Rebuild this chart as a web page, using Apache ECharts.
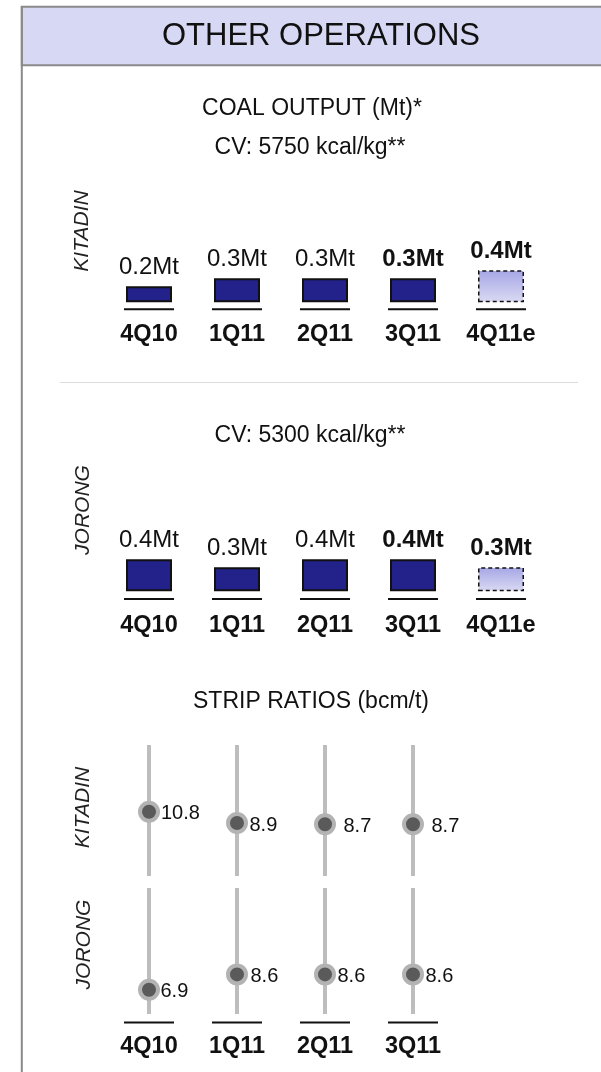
<!DOCTYPE html>
<html>
<head>
<meta charset="utf-8">
<title>Other operations</title>
<script src="https://cdn.jsdelivr.net/npm/echarts@6/dist/echarts.min.js"></script>
<style>
  html, body { margin: 0; padding: 0; background: #ffffff; }
  #chart { width: 601px; height: 1072px; }
</style>
</head>
<body>
<div id="chart"></div>
<script>
// Quarterly coal output (Mt) per mine
const quarters = ['4Q10', '1Q11', '2Q11', '3Q11', '4Q11e'];
const kitadinOutput = [0.2, 0.3, 0.3, 0.3, 0.4];
const jorongOutput = [0.4, 0.3, 0.4, 0.4, 0.3];

// Strip ratios (bcm/t), actual quarters only
const stripQuarters = ['4Q10', '1Q11', '2Q11', '3Q11'];
const kitadinStrip = [10.8, 8.9, 8.7, 8.7];
const jorongStrip = [6.9, 8.6, 8.6, 8.6];

// Text
const headerText = 'OTHER OPERATIONS';
const outputTitle = 'COAL OUTPUT (Mt)*';
const kitadinCv = 'CV: 5750 kcal/kg**';
const jorongCv = 'CV: 5300 kcal/kg**';
const stripTitle = 'STRIP RATIOS (bcm/t)';
const mineNames = ['KITADIN', 'JORONG'];

const FONT = '"Liberation Sans", Arial, Helvetica, sans-serif';
const INK = '#111111';
const NAVY = '#22228a';
const STEM = '#bdbdbd';
const BOLD_FROM = 3;            // latest actual quarter and the estimate are emphasised

function isEstimate(q) { return /e$/.test(q); }

function outputBars(values, gi) {
  return {
    type: 'bar',
    xAxisIndex: gi, yAxisIndex: gi,
    barWidth: 46,
    z: 3,
    data: values.map((v, i) => {
      const est = isEstimate(quarters[i]);
      return {
        value: v,
        itemStyle: est ? {
          color: new echarts.graphic.LinearGradient(0, 0, 0, 1, [
            { offset: 0, color: '#a6a6e6' },
            { offset: 1, color: '#dadaf3' }
          ]),
          borderColor: '#111111', borderWidth: 1.5, borderType: [4, 3]
        } : { color: NAVY, borderColor: '#111111', borderWidth: 2 },
        label: { fontWeight: i >= BOLD_FROM ? 'bold' : 'normal' }
      };
    }),
    label: {
      show: true, position: 'top', distance: 7,
      fontFamily: FONT, fontSize: 24, lineHeight: 24, color: INK,
      formatter: p => p.value.toFixed(1) + 'Mt'
    }
  };
}

function baseLines(cats, gi, atValue, offset) {
  return {
    type: 'scatter',
    xAxisIndex: gi, yAxisIndex: gi,
    silent: true, z: 2,
    symbol: 'rect', symbolSize: [50, 2], symbolOffset: [0, offset],
    itemStyle: { color: INK, opacity: 1 },
    data: cats.map(() => atValue)
  };
}

function stems(values, gi) {
  return {
    type: 'bar',
    xAxisIndex: gi, yAxisIndex: gi,
    barWidth: 4, silent: true, z: 1,
    itemStyle: { color: STEM },
    showBackground: true,
    backgroundStyle: { color: STEM, opacity: 1 },
    data: values
  };
}

function dots(values, gi, gaps) {
  return {
    type: 'scatter',
    xAxisIndex: gi, yAxisIndex: gi,
    z: 4,
    symbol: 'circle', symbolSize: 18,
    itemStyle: { color: '#5a5a5a', borderColor: '#b3b3b3', borderWidth: 4, opacity: 1 },
    data: values.map((v, i) => ({ value: v, label: { distance: gaps[i] } })),
    label: {
      show: true, position: 'right', offset: [0, 2],
      fontFamily: FONT, fontSize: 20, color: INK, opacity: 1,
      formatter: p => String(p.value)
    }
  };
}

const catLabel = (margin) => ({
  show: true, margin: margin, interval: 0,
  fontFamily: FONT, fontSize: 23.5, fontWeight: 'bold', color: INK
});

const hiddenY = (min, max, gi) => ({ type: 'value', gridIndex: gi, min: min, max: max, show: false });

function sideLabel(text, x, y) {
  return {
    type: 'text', x: x, y: y, rotation: Math.PI / 2,
    style: {
      text: text, fontFamily: FONT, fontSize: 21, fontStyle: 'italic', fill: '#222222',
      align: 'center', verticalAlign: 'middle'
    }
  };
}

function centered(text, x, y, size) {
  return {
    type: 'text', x: x, y: y,
    style: {
      text: text, fontFamily: FONT, fontSize: size, fill: INK,
      align: 'center', verticalAlign: 'middle'
    }
  };
}

const chart = echarts.init(document.getElementById('chart'), null, { renderer: 'canvas' });

chart.setOption({
  animation: false,
  backgroundColor: '#ffffff',
  grid: [
    { left: 105, width: 440, top: 222.3, height: 80 },     // Kitadin output
    { left: 105, width: 440, top: 511.3, height: 80 },     // Jorong output
    { left: 105, width: 352, top: 745, height: 131 },      // Kitadin strip ratio
    { left: 105, width: 352, top: 888, height: 126 }       // Jorong strip ratio
  ],
  xAxis: [
    { type: 'category', gridIndex: 0, data: quarters, axisLine: { show: false }, axisTick: { show: false }, axisLabel: catLabel(20) },
    { type: 'category', gridIndex: 1, data: quarters, axisLine: { show: false }, axisTick: { show: false }, axisLabel: catLabel(22.5) },
    { type: 'category', gridIndex: 2, data: stripQuarters, axisLine: { show: false }, axisTick: { show: false }, axisLabel: { show: false } },
    { type: 'category', gridIndex: 3, data: stripQuarters, axisLine: { show: false }, axisTick: { show: false }, axisLabel: catLabel(21) }
  ],
  yAxis: [
    hiddenY(0, 1, 0),
    hiddenY(0, 1, 1),
    hiddenY(0, 22, 2),
    hiddenY(4.2, 18.2, 3)
  ],
  series: [
    outputBars(kitadinOutput, 0),
    baseLines(quarters, 0, 0, 7),
    outputBars(jorongOutput, 1),
    baseLines(quarters, 1, 0, 7.7),
    stems(kitadinStrip, 2),
    dots(kitadinStrip, 2, [1, 1.5, 7.5, 7.5]),
    stems(jorongStrip, 3),
    dots(jorongStrip, 3, [0.5, 2.5, 1.5, 1.5]),
    baseLines(stripQuarters, 3, 4.2, 8.6)
  ],
  graphic: [
    {
      type: 'rect', z: 0,
      shape: { x: 21.8, y: 6.8, width: 620, height: 58.4 },
      style: { fill: '#d7d8f3', stroke: '#8a8a8a', lineWidth: 2 }
    },
    {
      type: 'line', z: 0,
      shape: { x1: 21.8, y1: 6, x2: 21.8, y2: 1072 },
      style: { stroke: '#8a8a8a', lineWidth: 2 }
    },
    {
      type: 'line', z: 0,
      shape: { x1: 60, y1: 382.5, x2: 578, y2: 382.5 },
      style: { stroke: '#dcdcdc', lineWidth: 1 }
    },
    centered(headerText, 321, 36, 31),
    centered(outputTitle, 312, 108.5, 23),
    centered(kitadinCv, 310, 148, 23),
    centered(jorongCv, 310, 436, 23),
    centered(stripTitle, 311, 702, 23),
    sideLabel(mineNames[0], 82, 231),
    sideLabel(mineNames[1], 83, 510),
    sideLabel(mineNames[0], 83, 807.5),
    sideLabel(mineNames[1], 84, 944.5)
  ]
});
</script>
</body>
</html>
